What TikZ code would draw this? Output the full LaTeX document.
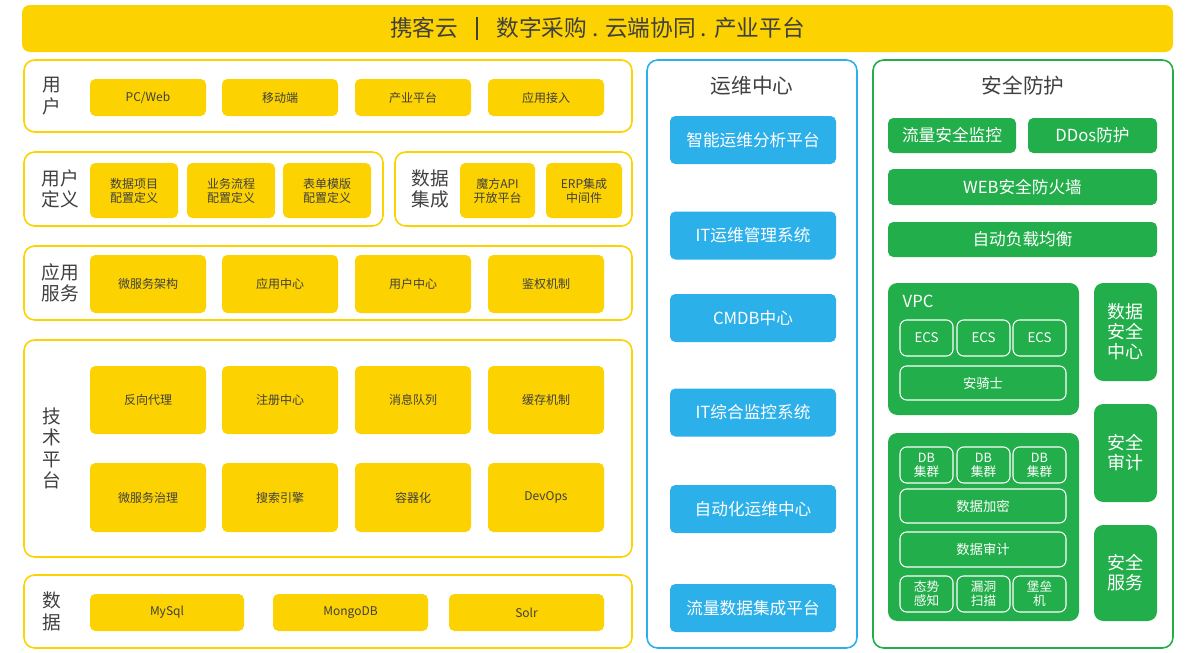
\documentclass[tikz,border=0pt]{standalone}
\usepackage{fontspec}
\setmainfont{Noto Sans CJK SC}
\definecolor{cyellow}{HTML}{FCD200}
\definecolor{cblue}{HTML}{2CB0EA}
\definecolor{cgreen}{HTML}{22AE4A}
\definecolor{ctext}{HTML}{404040}
\tikzset{
  wh/.style 2 args={minimum width=#1*0.75pt, minimum height=#2*0.75pt},
  panel/.style={draw=#1, line width=1.2pt, rounded corners=8pt, fill=white, inner sep=0pt},
  ybox/.style={fill=cyellow, rounded corners=4pt, text=ctext, font=\fontsize{9}{10.5}\selectfont, align=center, inner sep=0pt},
  bbox/.style={fill=cblue, rounded corners=4pt, text=white, font=\fontsize{12.5}{14}\selectfont, inner sep=0pt},
  gbox/.style={fill=cgreen, rounded corners=4pt, text=white, font=\fontsize{12.5}{14}\selectfont, align=center, inner sep=0pt},
  wbox/.style={draw=white, line width=0.8pt, rounded corners=5pt, text=white, font=\fontsize{10}{11}\selectfont, align=center, inner sep=0pt},
  side/.style={text=ctext, font=\fontsize{14}{16}\selectfont, align=center},
}
\begin{document}
\begin{tikzpicture}[x=0.75pt, y=-0.75pt]
  \useasboundingbox (0,0) rectangle (1200,653);

  % title bar
  \node[fill=cyellow, rounded corners=6pt, wh={1151}{47}, text=ctext, font=\fontsize{17}{19}\selectfont] (title) at (597.5,28.5)
    {携客云\hspace{0.8em}\rule[-0.15em]{0.08em}{1em}\hspace{0.8em}数字采购 . 云端协同 . 产业平台};

  % left panels
  \node[panel=cyellow, wh={608}{72}] (pUser) at (328,96) {};
  \node[side] (lUser) at (52,96) {用\\户};
  \foreach \x/\t [count=\i] in {148/PC\slash Web, 280/移动端, 413/产业平台, 546/应用接入}
    \node[ybox, wh={116}{37}] (u\i) at (\x,97.5) {\t};

  \node[panel=cyellow, wh={359}{74}] (pDef) at (203.5,189) {};
  \node[side] (lDef) at (60,189) {用户\\定义};
  \foreach \x/\t [count=\i] in {134/数据项目\\配置定义, 231/业务流程\\配置定义, 327/表单模版\\配置定义}
    \node[ybox, wh={88}{55}] (d\i) at (\x,190.5) {\t};

  \node[panel=cyellow, wh={237}{74}] (pInt) at (513.5,189) {};
  \node[side] (lInt) at (430,189) {数据\\集成};
  \node[ybox, wh={75}{55}] (i1) at (497.5,190.5) {魔方API\\开放平台};
  \node[ybox, wh={76}{55}] (i2) at (584,190.5) {ERP集成\\中间件};

  \node[panel=cyellow, wh={608}{74}] (pApp) at (328,283) {};
  \node[side] (lApp) at (60,283) {应用\\服务};
  \foreach \x/\t [count=\i] in {148/微服务架构, 280/应用中心, 413/用户中心, 546/鉴权机制}
    \node[ybox, wh={116}{58}] (a\i) at (\x,284) {\t};

  \node[panel=cyellow, wh={608}{217}] (pTech) at (328,448.5) {};
  \node[side] (lTech) at (52,448.5) {技\\术\\平\\台};
  \foreach \x/\t [count=\i] in {148/反向代理, 280/注册中心, 413/消息队列, 546/缓存机制}
    \node[ybox, wh={116}{68}] (t\i) at (\x,400) {\t};
  \foreach \x/\t [count=\i] in {148/微服务治理, 280/搜索引擎, 413/容器化, 546/DevOps}
    \node[ybox, wh={116}{69}] (s\i) at (\x,497.5) {\t};

  \node[panel=cyellow, wh={608}{73}] (pData) at (328,611.5) {};
  \node[side] (lData) at (52,611.5) {数\\据};
  \node[ybox, wh={154}{37}] (m1) at (167,612.5) {MySql};
  \node[ybox, wh={155}{37}] (m2) at (350.5,612.5) {MongoDB};
  \node[ybox, wh={155}{37}] (m3) at (526.5,612.5) {Solr};

  % ops center
  \node[panel=cblue, wh={210}{588}] (pOps) at (752,354) {};
  \node[side, font=\fontsize{15.5}{17}\selectfont] (lOps) at (752,86) {运维中心};
  \foreach \y/\t [count=\i] in {140/智能运维分析平台, 235.5/IT运维管理系统, 318/CMDB中心, 412.5/IT综合监控系统, 509/自动化运维中心, 608/流量数据集成平台}
    \node[bbox, wh={166}{48}] (o\i) at (753,\y) {\t};

  % security
  \node[panel=cgreen, wh={300}{588}] (pSec) at (1023,354) {};
  \node[side, font=\fontsize{15.5}{17}\selectfont] (lSec) at (1023,86) {安全防护};
  \node[gbox, wh={128}{35}] (g1) at (952,135.5) {流量安全监控};
  \node[gbox, wh={129}{35}] (g2) at (1092.5,135.5) {DDos防护};
  \node[gbox, wh={269}{36}] (g3) at (1022.5,187) {WEB安全防火墙};
  \node[gbox, wh={269}{35}] (g4) at (1022.5,239.5) {自动负载均衡};

  \node[gbox, wh={191}{132}, rounded corners=7pt] (vpc) at (983.5,349) {};
  \node[text=white, font=\fontsize{12.5}{14}\selectfont, anchor=west] (lVpc) at (898,301) {VPC};
  \foreach \x [count=\i] in {926.5,983.5,1039.5}
    \node[wbox, wh={53}{36}] (e\i) at (\x,338) {ECS};
  \node[wbox, wh={166}{34}] (aqs) at (983,383) {安骑士};

  \node[gbox, wh={191}{188}, rounded corners=7pt] (db) at (983.5,527) {};
  \foreach \x [count=\i] in {926.5,983.5,1039.5}
    \node[wbox, wh={53}{36}, font=\fontsize{9.5}{10.5}\selectfont] (c\i) at (\x,465) {DB\\集群};
  \node[wbox, wh={166}{34}] (enc) at (983,506) {数据加密};
  \node[wbox, wh={166}{35}] (aud) at (983,549.5) {数据审计};
  \foreach \x/\t [count=\i] in {926.5/态势\\感知, 983.5/漏洞\\扫描, 1039.5/堡垒\\机}
    \node[wbox, wh={53}{36}, font=\fontsize{9.5}{10.5}\selectfont] (k\i) at (\x,594) {\t};

  \node[gbox, wh={63}{98}, rounded corners=7pt, font=\fontsize{13.5}{15}\selectfont] (r1) at (1125.5,332) {数据\\安全\\中心};
  \node[gbox, wh={63}{98}, rounded corners=7pt, font=\fontsize{13.5}{15}\selectfont] (r2) at (1125.5,453) {安全\\审计};
  \node[gbox, wh={63}{96}, rounded corners=7pt, font=\fontsize{13.5}{15}\selectfont] (r3) at (1125.5,573) {安全\\服务};
\end{tikzpicture}
\end{document}
